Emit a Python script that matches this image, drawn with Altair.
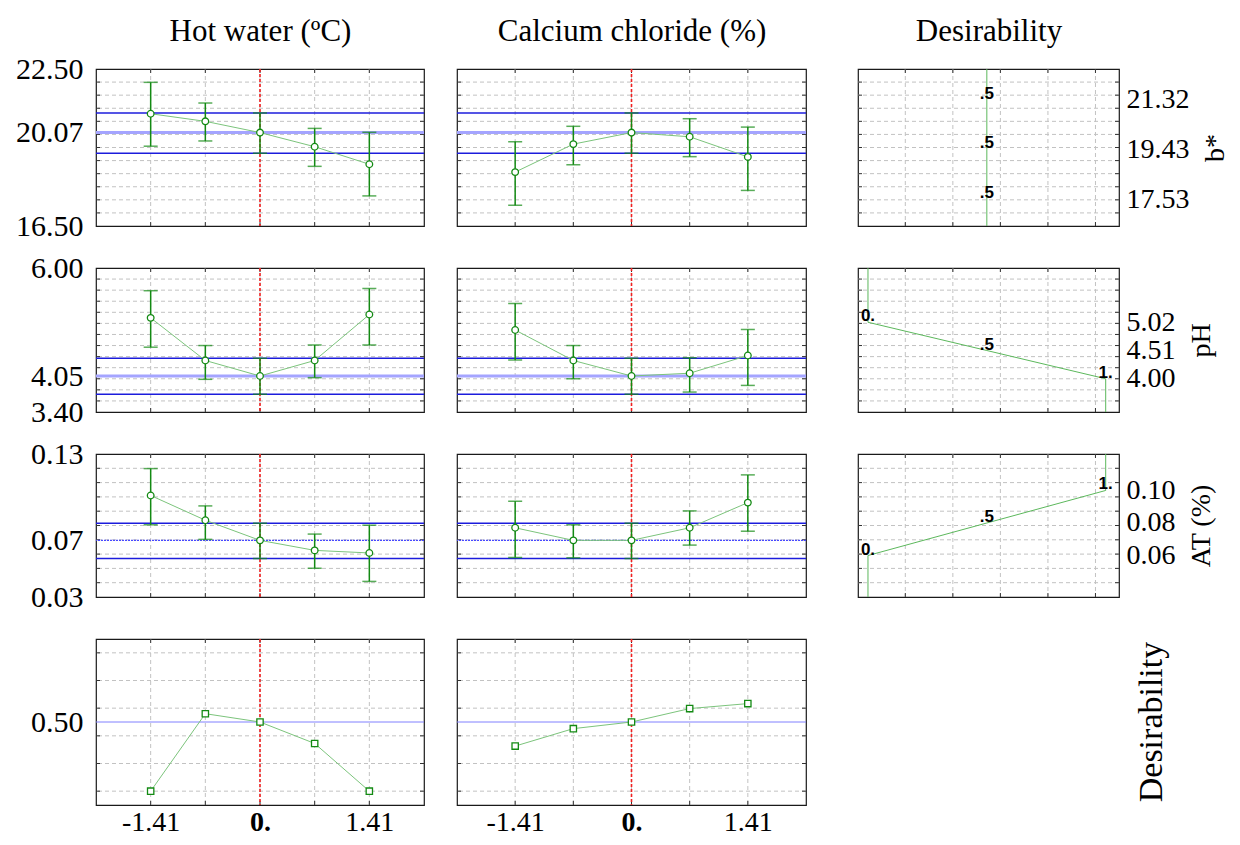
import altair as alt
import pandas as pd

# ---------------- data ----------------
levels = [-1.41, -0.705, 0.0, 0.705, 1.41]
current_level = [0.0]

# b*
bstar_hot = [20.79, 20.50, 20.07, 19.53, 18.86]
bstar_hot_lo = [19.55, 19.75, 19.28, 18.78, 17.65]
bstar_hot_hi = [21.99, 21.20, 20.82, 20.23, 20.08]
bstar_cacl = [18.56, 19.63, 20.07, 19.91, 19.14]
bstar_cacl_lo = [17.29, 18.84, 19.28, 19.15, 17.86]
bstar_cacl_hi = [19.72, 20.31, 20.82, 20.60, 20.28]
bstar_current = [20.07]
bstar_current_ci = [19.28, 20.82]

# pH
ph_hot = [5.10, 4.33, 4.05, 4.33, 5.16]
ph_hot_lo = [4.57, 3.99, 3.72, 4.02, 4.61]
ph_hot_hi = [5.59, 4.60, 4.37, 4.61, 5.63]
ph_cacl = [4.88, 4.33, 4.05, 4.10, 4.42]
ph_cacl_lo = [4.34, 4.00, 3.72, 3.76, 3.88]
ph_cacl_hi = [5.36, 4.60, 4.37, 4.38, 4.89]
ph_current = [4.05]
ph_current_ci = [3.72, 4.37]

# AT (%)
at_hot = [0.1010, 0.0837, 0.0696, 0.0626, 0.0608]
at_hot_lo = [0.0805, 0.0703, 0.0569, 0.0501, 0.0409]
at_hot_hi = [0.1198, 0.0937, 0.0816, 0.0740, 0.0802]
at_cacl = [0.0784, 0.0696, 0.0696, 0.0784, 0.0960]
at_cacl_lo = [0.0576, 0.0574, 0.0569, 0.0663, 0.0760]
at_cacl_hi = [0.0969, 0.0805, 0.0816, 0.0902, 0.1154]
at_current = [0.0696]
at_current_ci = [0.0569, 0.0816]

# overall desirability
desir_hot = [0.0, 0.56, 0.50, 0.345, 0.0]
desir_cacl = [0.326, 0.452, 0.50, 0.597, 0.633]
desir_current = [0.50]

# desirability functions (d value, response value)
bstar_fn_d = [0.5, 0.5, 0.5]
bstar_fn_v = [21.32, 19.43, 17.53]
ph_fn_d = [0.0, 0.5, 1.0]
ph_fn_v = [5.02, 4.51, 4.00]
at_fn_d = [0.0, 0.5, 1.0]
at_fn_v = [0.059, 0.08175, 0.1045]
fn_text = {0.0: "0.", 0.5: ".5", 1.0: "1."}

# axes: domains, gridlines, labelled ticks
x_domain = [-2.115, 2.115]
d_domain = [-0.042, 1.056]
d_grid = [0.157, 0.357, 0.557, 0.757, 0.957]
x_label_vals = [-1.41, 0.0, 1.41]

bstar_domain = [16.5, 22.5]
bstar_grid = [17.0, 17.5, 18.0, 18.5, 19.0, 19.5, 20.0, 20.5, 21.0, 21.5, 22.0]
bstar_ticks = [16.5, 20.07, 22.5]
ph_domain = [3.4, 6.0]
ph_grid = [3.6, 3.8, 4.0, 4.2, 4.4, 4.6, 4.8, 5.0, 5.2, 5.4, 5.6, 5.8]
ph_ticks = [3.4, 4.05, 6.0]
at_domain = [0.03, 0.13]
at_grid = [0.04, 0.05, 0.06, 0.07, 0.08, 0.09, 0.10, 0.11, 0.12]
at_ticks = [0.03, 0.0696, 0.13]
desir_domain = [-0.1, 1.1]
desir_grid = [0.0, 0.2, 0.4, 0.6, 0.8, 1.0]
desir_ticks = [0.50]

col_titles = ["Hot water (ºC)", "Calcium chloride (%)", "Desirability"]
row_titles = ["b*", "pH", "AT (%)", "Desirability"]

# ---------------- style ----------------
SERIF = "Liberation Serif"
SANS = "Liberation Sans"
GRID = "#c2c2c2"
GREEN = "#138a13"
LGREEN = "#7cc47c"
W_L, W_M, W_R = 328, 349, 261
GAP1, GAP2 = 33, 52
HS = [157, 144, 143, 166]
TICK = 4
LABEL_SIZE = 30
X_LABEL_SIZE = 28
RIGHT_LABEL_SIZE = 28
COL_TITLE_SIZE = 31


def qx(field, scale, axis):
    return alt.X(field, type="quantitative", scale=scale, axis=axis)


def qy(field, scale, axis):
    return alt.Y(field, type="quantitative", scale=scale, axis=axis)


def top_title_axis(text):
    return alt.Axis(orient="top", labels=False, title=text, titleFontSize=COL_TITLE_SIZE,
                    titlePadding=22, titleFont=SERIF, titleFontWeight="normal")


def frame_layers(xs, ys, xax, yax, xgrid, ygrid, W, H):
    gx = pd.DataFrame({"gx": xgrid})
    gy = pd.DataFrame({"gy": ygrid})
    return [
        alt.Chart(gy).mark_rule(color=GRID, strokeDash=[4, 3], strokeWidth=1).encode(y=qy("gy", ys, yax)),
        alt.Chart(gx).mark_rule(color=GRID, strokeDash=[4, 3], strokeWidth=1).encode(x=qx("gx", xs, xax)),
        alt.Chart(gy).mark_rule(color="#333333", strokeWidth=1).encode(
            y=qy("gy", ys, yax), x=alt.value(0), x2=alt.value(TICK)),
        alt.Chart(gy).mark_rule(color="#333333", strokeWidth=1).encode(
            y=qy("gy", ys, yax), x=alt.value(W - TICK), x2=alt.value(W)),
        alt.Chart(gx).mark_rule(color="#333333", strokeWidth=1).encode(
            x=qx("gx", xs, xax), y=alt.value(0), y2=alt.value(TICK)),
        alt.Chart(gx).mark_rule(color="#333333", strokeWidth=1).encode(
            x=qx("gx", xs, xax), y=alt.value(H - TICK), y2=alt.value(H)),
    ]


def profile_panel(vals, lo, hi, cur, cur_ci, ydom, ygrid, yticks, W, H,
                  show_y, show_x, center_style, marker="circle", top_title=None):
    xs = alt.Scale(domain=x_domain, nice=False, zero=False)
    ys = alt.Scale(domain=ydom, nice=False, zero=False)
    if show_y:
        yax = alt.Axis(values=yticks, format=".2f", labelPadding=13, labelOverlap=False,
                       labelBaseline="middle", labelFontSize=LABEL_SIZE, title=None)
    else:
        yax = None
    if show_x:
        xax = alt.Axis(values=x_label_vals, labelPadding=3, labelOverlap=False, title=None,
                       labelFontSize=X_LABEL_SIZE,
                       labelExpr="datum.value == 0 ? '0.' : (datum.value < 0 ? '-' : '') + format(abs(datum.value), '.2f')",
                       labelFontWeight={"condition": {"test": "datum.value == 0", "value": "bold"},
                                        "value": "normal"})
    elif top_title is not None:
        xax = top_title_axis(top_title)
    else:
        xax = None
    layers = frame_layers(xs, ys, xax, yax, levels, ygrid, W, H)
    if cur_ci is not None:
        layers.append(alt.Chart(pd.DataFrame({"c": cur_ci})).mark_rule(
            color="#1c1cdc", strokeWidth=1.5).encode(y=qy("c", ys, yax)))
    layers.append(alt.Chart(pd.DataFrame({"c": cur})).mark_rule(**center_style).encode(
        y=qy("c", ys, yax)))
    layers.append(alt.Chart(pd.DataFrame({"c": current_level})).mark_rule(
        color="#f02020", strokeDash=[3, 2], strokeWidth=1.6).encode(x=qx("c", xs, xax)))
    df = pd.DataFrame({"x": levels, "y": vals})
    if lo is not None:
        df["lo"] = lo
        df["hi"] = hi
        layers.append(alt.Chart(df).mark_rule(color=GREEN, strokeWidth=1.5).encode(
            x=qx("x", xs, xax), y=qy("lo", ys, yax), y2="hi"))
        for f in ["lo", "hi"]:
            layers.append(alt.Chart(df).mark_tick(
                color=GREEN, orient="horizontal", size=14, thickness=1.5).encode(
                x=qx("x", xs, xax), y=qy(f, ys, yax)))
    layers.append(alt.Chart(df).mark_line(color=LGREEN, strokeWidth=1).encode(
        x=qx("x", xs, xax), y=qy("y", ys, yax)))
    layers.append(alt.Chart(df).mark_point(
        shape=marker, size=44 if marker == "circle" else 40, filled=True, fill="white",
        stroke=GREEN, strokeWidth=1.3, opacity=1).encode(
        x=qx("x", xs, xax), y=qy("y", ys, yax)))
    return alt.layer(*layers).properties(width=W, height=H)


def desir_panel(fn_d, fn_v, ydom, ygrid, title, W, H, top_title=None):
    xs = alt.Scale(domain=d_domain, nice=False, zero=False)
    ys = alt.Scale(domain=ydom, nice=False, zero=False)
    yax = alt.Axis(orient="right", values=fn_v, format=".2f", labelPadding=7,
                   labelOverlap=False, labelBaseline="middle", labelFontSize=RIGHT_LABEL_SIZE,
                   title=title, titleAngle=270, titleBaseline="top", titlePadding=12)
    xax = top_title_axis(top_title) if top_title is not None else None
    layers = frame_layers(xs, ys, xax, yax, d_grid, ygrid, W, H)
    if fn_v[0] > fn_v[-1]:
        start, end = ydom[1], ydom[0]
    else:
        start, end = ydom[0], ydom[1]
    path = pd.DataFrame({
        "d": [fn_d[0]] + fn_d + [fn_d[-1]],
        "v": [start] + fn_v + [end],
        "i": list(range(len(fn_d) + 2)),
    })
    layers.append(alt.Chart(path).mark_line(color="#5cb85c", strokeWidth=1).encode(
        x=qx("d", xs, xax), y=qy("v", ys, yax), order="i:Q"))
    lab = pd.DataFrame({"d": fn_d, "v": fn_v, "t": [fn_text[d] for d in fn_d]})
    layers.append(alt.Chart(lab).mark_text(
        font=SANS, fontWeight="bold", fontSize=17, align="center", baseline="alphabetic",
        dy=-1, color="black").encode(
        x=qx("d", xs, xax), y=qy("v", ys, yax), text="t:N"))
    return alt.layer(*layers).properties(width=W, height=H)


def spacer(W, H):
    return alt.Chart(pd.DataFrame({"z": [0]})).mark_point(opacity=0).encode(
        x=alt.value(0), y=alt.value(0)).properties(
        width=W, height=H, view=alt.ViewBackground(stroke="transparent"))


thick_center = dict(color="#a4a4ff", strokeWidth=3)
thin_center = dict(color="#4848ff", strokeWidth=1.2, strokeDash=[2, 1])
desir_center = dict(color="#8080ff", strokeWidth=1)

cells = []
# row 1: b*
cells += [
    profile_panel(bstar_hot, bstar_hot_lo, bstar_hot_hi, bstar_current, bstar_current_ci,
                  bstar_domain, bstar_grid, bstar_ticks, W_L, HS[0], True, False, thick_center,
                  top_title=col_titles[0]),
    spacer(GAP1, HS[0]),
    profile_panel(bstar_cacl, bstar_cacl_lo, bstar_cacl_hi, bstar_current, bstar_current_ci,
                  bstar_domain, bstar_grid, bstar_ticks, W_M, HS[0], False, False, thick_center,
                  top_title=col_titles[1]),
    spacer(GAP2, HS[0]),
    desir_panel(bstar_fn_d, bstar_fn_v, bstar_domain, bstar_grid, row_titles[0], W_R, HS[0],
                top_title=col_titles[2]),
]
# row 2: pH
cells += [
    profile_panel(ph_hot, ph_hot_lo, ph_hot_hi, ph_current, ph_current_ci,
                  ph_domain, ph_grid, ph_ticks, W_L, HS[1], True, False, thick_center),
    spacer(GAP1, HS[1]),
    profile_panel(ph_cacl, ph_cacl_lo, ph_cacl_hi, ph_current, ph_current_ci,
                  ph_domain, ph_grid, ph_ticks, W_M, HS[1], False, False, thick_center),
    spacer(GAP2, HS[1]),
    desir_panel(ph_fn_d, ph_fn_v, ph_domain, ph_grid, row_titles[1], W_R, HS[1]),
]
# row 3: AT
cells += [
    profile_panel(at_hot, at_hot_lo, at_hot_hi, at_current, at_current_ci,
                  at_domain, at_grid, at_ticks, W_L, HS[2], True, False, thin_center),
    spacer(GAP1, HS[2]),
    profile_panel(at_cacl, at_cacl_lo, at_cacl_hi, at_current, at_current_ci,
                  at_domain, at_grid, at_ticks, W_M, HS[2], False, False, thin_center),
    spacer(GAP2, HS[2]),
    desir_panel(at_fn_d, at_fn_v, at_domain, at_grid, row_titles[2], W_R, HS[2]),
]
# row 4: overall desirability
desir_title = alt.Chart(pd.DataFrame({"t": [row_titles[3]]})).mark_text(
    angle=270, font=SERIF, fontSize=34, align="center", baseline="middle", color="black").encode(
    text="t:N", x=alt.value(294), y=alt.value(HS[3] / 2)).properties(
    width=W_R, height=HS[3], view=alt.ViewBackground(stroke="transparent"))
cells += [
    profile_panel(desir_hot, None, None, desir_current, None,
                  desir_domain, desir_grid, desir_ticks, W_L, HS[3], True, True, desir_center,
                  marker="square"),
    spacer(GAP1, HS[3]),
    profile_panel(desir_cacl, None, None, desir_current, None,
                  desir_domain, desir_grid, desir_ticks, W_M, HS[3], False, True, desir_center,
                  marker="square"),
    spacer(GAP2, HS[3]),
    desir_title,
]

chart = alt.concat(*cells, columns=5).properties(
    spacing={"row": 42, "column": 0}, bounds="flush", align="each",
    padding={"left": 6, "top": 6, "right": 0, "bottom": 0},
).configure_view(
    stroke="#1a1a1a", strokeWidth=1.2
).configure_axis(
    labelFont=SERIF, labelFontSize=LABEL_SIZE, labelColor="black", titleFont=SERIF,
    titleFontSize=28, titleFontWeight="normal", titleColor="black", domain=False,
    ticks=False, tickSize=0, grid=False
)

chart.save("out.html", embed_options={"renderer": "svg", "actions": False})
